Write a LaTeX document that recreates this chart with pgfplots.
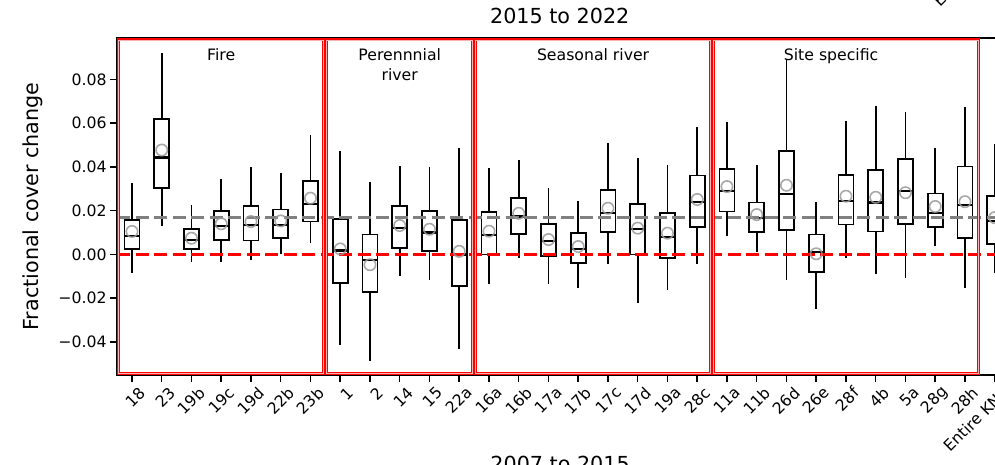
\documentclass[border=0pt]{standalone}
\usepackage{pgfplots}
\pgfplotsset{compat=1.18}
\usepackage{pgfplotstable}
\usepgfplotslibrary{statistics}
\usepackage{fontspec}
\setmainfont{DejaVu Sans}

\pgfplotstableread{
pos lw lq med uq uw mean
0 -0.0083 0.0024 0.0085 0.0158 0.0325 0.0105
1 0.0128 0.0302 0.0443 0.0618 0.0922 0.0477
2 -0.0036 0.0024 0.0067 0.0117 0.0226 0.0074
3 -0.0036 0.0067 0.0131 0.0199 0.0345 0.0140
4 -0.0024 0.0064 0.0134 0.0220 0.0398 0.0150
5 0.0002 0.0074 0.0134 0.0205 0.0374 0.0153
6 0.0052 0.0150 0.0232 0.0334 0.0548 0.0257
7 -0.0415 -0.0131 0.0018 0.0162 0.0474 0.0025
8 -0.0486 -0.0173 -0.0027 0.0091 0.0330 -0.0047
9 -0.0100 0.0030 0.0122 0.0223 0.0405 0.0132
10 -0.0118 0.0015 0.0100 0.0200 0.0401 0.0115
11 -0.0430 -0.0146 0.0000 0.0159 0.0486 0.0014
12 -0.0137 0.0000 0.0087 0.0193 0.0395 0.0106
13 -0.0015 0.0094 0.0173 0.0257 0.0431 0.0188
14 -0.0137 -0.0009 0.0061 0.0140 0.0304 0.0068
15 -0.0153 -0.0038 0.0024 0.0099 0.0243 0.0036
16 -0.0042 0.0103 0.0190 0.0295 0.0509 0.0211
17 -0.0222 0.0000 0.0115 0.0232 0.0440 0.0120
18 -0.0161 -0.0015 0.0079 0.0190 0.0407 0.0097
19 -0.0042 0.0126 0.0238 0.0361 0.0583 0.0251
20 0.0082 0.0196 0.0289 0.0390 0.0606 0.0310
21 0.0012 0.0102 0.0167 0.0237 0.0408 0.0182
22 -0.0118 0.0112 0.0276 0.0474 0.0887 0.0316
23 -0.0248 -0.0079 0.0012 0.0091 0.0238 0.0003
24 -0.0015 0.0137 0.0243 0.0363 0.0610 0.0266
25 -0.0088 0.0105 0.0237 0.0387 0.0679 0.0261
26 -0.0106 0.0138 0.0289 0.0437 0.0651 0.0282
27 0.0038 0.0124 0.0191 0.0278 0.0486 0.0219
28 -0.0153 0.0074 0.0225 0.0402 0.0674 0.0241
29 -0.0083 0.0049 0.0152 0.0266 0.0504 0.0168
}\boxdata

\newcommand{\tickfont}{\fontsize{15.7}{18}\selectfont}
\newcommand{\bigfont}{\fontsize{20.7}{24}\selectfont}

\begin{document}
\begin{tikzpicture}
\useasboundingbox (-117.1pt,-90pt) rectangle (877.9pt,375pt);
\clip (-117.1pt,-90pt) rectangle (877.9pt,375pt);
\begin{axis}[
  scale only axis,
  width=892.5pt, height=337pt,
  xmin=-0.5, xmax=29.5,
  ymin=-0.0551, ymax=0.0989,
  scaled y ticks=false,
  boxplot/draw direction=y,
  boxplot/every median/.style={black, line width=2.2pt},
  xtick={0,...,29},
  xticklabels={18,23,19b,19c,19d,22b,23b,1,2,14,15,22a,16a,16b,17a,17b,17c,17d,19a,28c,11a,11b,26d,26e,28f,4b,5a,28g,28h,Entire KNP},
  ytick={-0.04,-0.02,0,0.02,0.04,0.06,0.08},
  yticklabels={−0.04,−0.02,0.00,0.02,0.04,0.06,0.08},
  xtick pos=bottom, ytick pos=left,
  tick align=outside,
  major tick length=7pt,
  every tick/.style={black, line width=1.5pt},
  axis line style={black, line width=1.8pt},
  x tick label style={rotate=45, anchor=east, inner sep=0pt, xshift=2pt, yshift=-13pt, font=\tickfont},
  y tick label style={font=\tickfont},
  ylabel={Fractional cover change},
  every axis y label/.style={at={(axis description cs:-0.095,0.5)}, rotate=90, anchor=center, font=\bigfont},
  title={2015 to 2022},
  title style={at={(axis description cs:0.496,1.047)}, anchor=center, yshift=0pt, font=\bigfont},
]
\pgfplotsinvokeforeach{0,...,29}{
  \pgfplotstablegetelem{#1}{lw}\of\boxdata \edef\vlw{\pgfplotsretval}
  \pgfplotstablegetelem{#1}{lq}\of\boxdata \edef\vlq{\pgfplotsretval}
  \pgfplotstablegetelem{#1}{med}\of\boxdata \edef\vmed{\pgfplotsretval}
  \pgfplotstablegetelem{#1}{uq}\of\boxdata \edef\vuq{\pgfplotsretval}
  \pgfplotstablegetelem{#1}{uw}\of\boxdata \edef\vuw{\pgfplotsretval}
  \edef\doplot{\noexpand\addplot[black, solid, line width=1.8pt,
    boxplot prepared={draw position=#1, lower whisker=\vlw, lower quartile=\vlq,
    median=\vmed, upper quartile=\vuq, upper whisker=\vuw,
    box extend=0.5, whisker extend=0}] coordinates {};}
  \doplot
}
\addplot[only marks, mark=o, mark size=5.7pt, draw=gray!80, opacity=0.85,
  mark options={line width=1.6pt}] table[x=pos, y=mean] {\boxdata};
\addplot[red, line width=3pt, dash pattern=on 13pt off 5.5pt] coordinates {(-0.5,0) (29.5,0)};
\addplot[gray, line width=3pt, dash pattern=on 13pt off 5.5pt] coordinates {(-0.5,0.0168) (29.5,0.0168)};
\draw[red, line width=1.1pt, double=red!30, double distance=0.8pt] (axis cs:-0.45,-0.0542) rectangle (axis cs:6.45,0.0980);
\draw[red, line width=1.1pt, double=red!30, double distance=0.8pt] (axis cs:6.55,-0.0542) rectangle (axis cs:11.45,0.0980);
\draw[red, line width=1.1pt, double=red!30, double distance=0.8pt] (axis cs:11.55,-0.0542) rectangle (axis cs:19.45,0.0980);
\draw[red, line width=1.1pt, double=red!30, double distance=0.8pt] (axis cs:19.55,-0.0542) rectangle (axis cs:28.45,0.0980);
\node[anchor=base, inner sep=0pt, font=\tickfont] at (axis cs:3,0.0884) {Fire};
\node[anchor=base, inner sep=0pt, font=\tickfont] at (axis cs:9,0.0884) {Perennnial};
\node[anchor=base, inner sep=0pt, font=\tickfont] at (axis cs:9,0.0797) {river};
\node[anchor=base, inner sep=0pt, font=\tickfont] at (axis cs:15.5,0.0884) {Seasonal river};
\node[anchor=base, inner sep=0pt, font=\tickfont] at (axis cs:23.5,0.0884) {Site specific};
\end{axis}
\node[anchor=base, inner sep=0pt, font=\bigfont] at (443pt,-97pt) {2007 to 2015};
\node[anchor=base west, inner sep=0pt, rotate=45, font=\tickfont] at (822.9pt,367pt) {Entire KNP};
\end{tikzpicture}
\end{document}
